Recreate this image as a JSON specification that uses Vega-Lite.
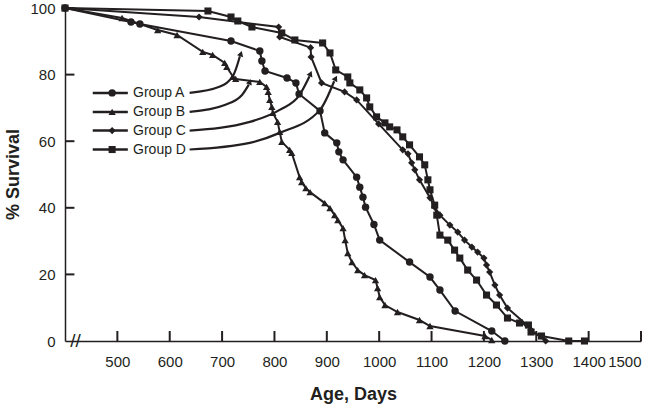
{
  "$schema": "https://vega.github.io/schema/vega-lite/v6.json",
  "autosize": {"type": "none"},
  "width": 576,
  "height": 333,
  "padding": {"left": 65, "top": 8, "right": 19, "bottom": 69},
  "background": "white",
  "config": {
    "view": {"stroke": null},
    "font": "Liberation Sans",
    "axis": {
      "domainColor": "#231f20", "domainWidth": 1.5, "ticks": false,
      "labelColor": "#231f20", "titleColor": "#231f20", "labelFontSize": 15,
      "titleFontSize": 18, "titleFontWeight": "bold", "grid": false, "labelFont": "Liberation Sans", "titleFont": "Liberation Sans"
    }
  },
  "datasets": {
    "surv": [
      {"group": "Group A", "age": 400, "survival": 100},
      {"group": "Group A", "age": 526, "survival": 95.8},
      {"group": "Group A", "age": 543, "survival": 95.2},
      {"group": "Group A", "age": 717, "survival": 90.1},
      {"group": "Group A", "age": 772, "survival": 87.1},
      {"group": "Group A", "age": 776, "survival": 84.1},
      {"group": "Group A", "age": 782, "survival": 81.1},
      {"group": "Group A", "age": 824, "survival": 79},
      {"group": "Group A", "age": 841, "survival": 77.5},
      {"group": "Group A", "age": 847, "survival": 74.2},
      {"group": "Group A", "age": 887, "survival": 69.1},
      {"group": "Group A", "age": 896, "survival": 62.5},
      {"group": "Group A", "age": 919, "survival": 59.5},
      {"group": "Group A", "age": 923, "survival": 56.8},
      {"group": "Group A", "age": 931, "survival": 54.4},
      {"group": "Group A", "age": 957, "survival": 49.2},
      {"group": "Group A", "age": 963, "survival": 46.2},
      {"group": "Group A", "age": 969, "survival": 43.2},
      {"group": "Group A", "age": 974, "survival": 40.2},
      {"group": "Group A", "age": 990, "survival": 35},
      {"group": "Group A", "age": 1001, "survival": 30.3},
      {"group": "Group A", "age": 1058, "survival": 23.7},
      {"group": "Group A", "age": 1097, "survival": 19.2},
      {"group": "Group A", "age": 1116, "survival": 15.3},
      {"group": "Group A", "age": 1145, "survival": 9},
      {"group": "Group A", "age": 1215, "survival": 3},
      {"group": "Group A", "age": 1240, "survival": 0},
      {"group": "Group B", "age": 400, "survival": 100},
      {"group": "Group B", "age": 509, "survival": 97},
      {"group": "Group B", "age": 577, "survival": 93.4},
      {"group": "Group B", "age": 614, "survival": 91.9},
      {"group": "Group B", "age": 663, "survival": 86.8},
      {"group": "Group B", "age": 682, "survival": 85.9},
      {"group": "Group B", "age": 705, "survival": 83.5},
      {"group": "Group B", "age": 709, "survival": 82.3},
      {"group": "Group B", "age": 721, "survival": 79.3},
      {"group": "Group B", "age": 726, "survival": 78.7},
      {"group": "Group B", "age": 772, "survival": 77.8},
      {"group": "Group B", "age": 785, "survival": 76.3},
      {"group": "Group B", "age": 788, "survival": 74.8},
      {"group": "Group B", "age": 791, "survival": 72.4},
      {"group": "Group B", "age": 795, "survival": 70.3},
      {"group": "Group B", "age": 797, "survival": 68.5},
      {"group": "Group B", "age": 806, "survival": 65.8},
      {"group": "Group B", "age": 810, "survival": 62.8},
      {"group": "Group B", "age": 814, "survival": 59.8},
      {"group": "Group B", "age": 829, "survival": 57.4},
      {"group": "Group B", "age": 833, "survival": 56.5},
      {"group": "Group B", "age": 848, "survival": 49.2},
      {"group": "Group B", "age": 852, "survival": 47.7},
      {"group": "Group B", "age": 860, "survival": 45.9},
      {"group": "Group B", "age": 868, "survival": 44.7},
      {"group": "Group B", "age": 896, "survival": 41.4},
      {"group": "Group B", "age": 906, "survival": 39.9},
      {"group": "Group B", "age": 915, "survival": 37.8},
      {"group": "Group B", "age": 921, "survival": 36.3},
      {"group": "Group B", "age": 931, "survival": 33.9},
      {"group": "Group B", "age": 935, "survival": 30.3},
      {"group": "Group B", "age": 940, "survival": 26.4},
      {"group": "Group B", "age": 948, "survival": 23.7},
      {"group": "Group B", "age": 959, "survival": 21.3},
      {"group": "Group B", "age": 972, "survival": 19.8},
      {"group": "Group B", "age": 993, "survival": 18.3},
      {"group": "Group B", "age": 997, "survival": 15.9},
      {"group": "Group B", "age": 1001, "survival": 13.2},
      {"group": "Group B", "age": 1011, "survival": 10.8},
      {"group": "Group B", "age": 1035, "survival": 8.7},
      {"group": "Group B", "age": 1077, "survival": 6.3},
      {"group": "Group B", "age": 1097, "survival": 4.5},
      {"group": "Group B", "age": 1202, "survival": 1.5},
      {"group": "Group B", "age": 1215, "survival": 0.3},
      {"group": "Group C", "age": 400, "survival": 100},
      {"group": "Group C", "age": 656, "survival": 97.3},
      {"group": "Group C", "age": 808, "survival": 94.3},
      {"group": "Group C", "age": 810, "survival": 91.3},
      {"group": "Group C", "age": 869, "survival": 88.1},
      {"group": "Group C", "age": 870, "survival": 85.3},
      {"group": "Group C", "age": 890, "survival": 77.5},
      {"group": "Group C", "age": 934, "survival": 74.8},
      {"group": "Group C", "age": 957, "survival": 72.4},
      {"group": "Group C", "age": 999, "survival": 65.2},
      {"group": "Group C", "age": 1045, "survival": 57.4},
      {"group": "Group C", "age": 1055, "survival": 56.2},
      {"group": "Group C", "age": 1062, "survival": 53.5},
      {"group": "Group C", "age": 1068, "survival": 51.4},
      {"group": "Group C", "age": 1077, "survival": 48.4},
      {"group": "Group C", "age": 1097, "survival": 43},
      {"group": "Group C", "age": 1106, "survival": 40.2},
      {"group": "Group C", "age": 1116, "survival": 37.8},
      {"group": "Group C", "age": 1135, "survival": 34.8},
      {"group": "Group C", "age": 1150, "survival": 32.7},
      {"group": "Group C", "age": 1163, "survival": 30.3},
      {"group": "Group C", "age": 1177, "survival": 28.2},
      {"group": "Group C", "age": 1188, "survival": 26.7},
      {"group": "Group C", "age": 1200, "survival": 24.9},
      {"group": "Group C", "age": 1205, "survival": 22.8},
      {"group": "Group C", "age": 1211, "survival": 20.7},
      {"group": "Group C", "age": 1221, "survival": 16.8},
      {"group": "Group C", "age": 1230, "survival": 13.8},
      {"group": "Group C", "age": 1245, "survival": 9.9},
      {"group": "Group C", "age": 1282, "survival": 4.8},
      {"group": "Group C", "age": 1290, "survival": 3.3},
      {"group": "Group C", "age": 1318, "survival": 0},
      {"group": "Group D", "age": 400, "survival": 100},
      {"group": "Group D", "age": 673, "survival": 99.1},
      {"group": "Group D", "age": 717, "survival": 97.3},
      {"group": "Group D", "age": 730, "survival": 96.1},
      {"group": "Group D", "age": 757, "survival": 94.3},
      {"group": "Group D", "age": 814, "survival": 92.5},
      {"group": "Group D", "age": 839, "survival": 90.4},
      {"group": "Group D", "age": 892, "survival": 89.5},
      {"group": "Group D", "age": 906, "survival": 86.5},
      {"group": "Group D", "age": 917, "survival": 81.4},
      {"group": "Group D", "age": 940, "survival": 79.3},
      {"group": "Group D", "age": 944, "survival": 77.5},
      {"group": "Group D", "age": 963, "survival": 75.4},
      {"group": "Group D", "age": 976, "survival": 73},
      {"group": "Group D", "age": 982, "survival": 70.3},
      {"group": "Group D", "age": 995, "survival": 67.3},
      {"group": "Group D", "age": 1011, "survival": 65.5},
      {"group": "Group D", "age": 1020, "survival": 64.3},
      {"group": "Group D", "age": 1034, "survival": 63.4},
      {"group": "Group D", "age": 1045, "survival": 61.3},
      {"group": "Group D", "age": 1058, "survival": 58.9},
      {"group": "Group D", "age": 1077, "survival": 55.3},
      {"group": "Group D", "age": 1087, "survival": 52.9},
      {"group": "Group D", "age": 1093, "survival": 48.4},
      {"group": "Group D", "age": 1097, "survival": 45.4},
      {"group": "Group D", "age": 1106, "survival": 40.8},
      {"group": "Group D", "age": 1110, "survival": 37.8},
      {"group": "Group D", "age": 1116, "survival": 31.8},
      {"group": "Group D", "age": 1131, "survival": 30.3},
      {"group": "Group D", "age": 1144, "survival": 27.3},
      {"group": "Group D", "age": 1154, "survival": 24.9},
      {"group": "Group D", "age": 1169, "survival": 21.3},
      {"group": "Group D", "age": 1186, "survival": 18.3},
      {"group": "Group D", "age": 1205, "survival": 13.8},
      {"group": "Group D", "age": 1224, "survival": 10.8},
      {"group": "Group D", "age": 1245, "survival": 6.9},
      {"group": "Group D", "age": 1268, "survival": 5.4},
      {"group": "Group D", "age": 1285, "survival": 4.8},
      {"group": "Group D", "age": 1290, "survival": 2.7},
      {"group": "Group D", "age": 1310, "survival": 1.5},
      {"group": "Group D", "age": 1362, "survival": 0},
      {"group": "Group D", "age": 1392, "survival": 0}
    ],
    "keyline": [
      {"group": "Group A", "age": 453, "survival": 74.5},
      {"group": "Group A", "age": 520, "survival": 74.5},
      {"group": "Group B", "age": 453, "survival": 68.8},
      {"group": "Group B", "age": 520, "survival": 68.8},
      {"group": "Group C", "age": 453, "survival": 63.2},
      {"group": "Group C", "age": 520, "survival": 63.2},
      {"group": "Group D", "age": 453, "survival": 57.5},
      {"group": "Group D", "age": 520, "survival": 57.5}
    ],
    "keymark": [
      {"group": "Group A", "age": 490, "survival": 74.5, "label_age": 530},
      {"group": "Group B", "age": 490, "survival": 68.8, "label_age": 530},
      {"group": "Group C", "age": 490, "survival": 63.2, "label_age": 530},
      {"group": "Group D", "age": 490, "survival": 57.5, "label_age": 530}
    ],
    "arrows": [
      {"group": "Group A", "age": 638, "survival": 74.5},
      {"group": "Group A", "age": 696, "survival": 76.4},
      {"group": "Group A", "age": 722, "survival": 80},
      {"group": "Group A", "age": 734, "survival": 85.5},
      {"group": "Group B", "age": 638, "survival": 68.8},
      {"group": "Group B", "age": 705, "survival": 70.9},
      {"group": "Group B", "age": 738, "survival": 73.9},
      {"group": "Group B", "age": 751, "survival": 77},
      {"group": "Group C", "age": 638, "survival": 63.2},
      {"group": "Group C", "age": 753, "survival": 65.8},
      {"group": "Group C", "age": 810, "survival": 69.4},
      {"group": "Group C", "age": 848, "survival": 73.9},
      {"group": "Group C", "age": 867, "survival": 79.5},
      {"group": "Group D", "age": 638, "survival": 57.5},
      {"group": "Group D", "age": 753, "survival": 59.5},
      {"group": "Group D", "age": 810, "survival": 62.5},
      {"group": "Group D", "age": 887, "survival": 69.4},
      {"group": "Group D", "age": 914, "survival": 78}
    ],
    "tips": [
      {"group": "Group A", "age": 736, "survival": 86.3},
      {"group": "Group B", "age": 753, "survival": 77.8},
      {"group": "Group C", "age": 869, "survival": 80.3},
      {"group": "Group D", "age": 917, "survival": 78.9}
    ],
    "ticksx": [
      {"tickage": 500}, {"tickage": 600}, {"tickage": 700}, {"tickage": 800}, {"tickage": 900}, {"tickage": 1000},
      {"tickage": 1100}, {"tickage": 1200}, {"tickage": 1300}, {"tickage": 1400}, {"tickage": 1500}
    ],
    "ticksy": [
      {"ticksurv": 20}, {"ticksurv": 40}, {"ticksurv": 60}, {"ticksurv": 80}, {"ticksurv": 100}
    ]
  },
  "layer": [
    {
      "data": {"name": "surv"},
      "mark": {"type": "line", "color": "#231f20", "strokeWidth": 2},
      "encoding": {
        "x": {"field": "age", "type": "quantitative", "scale": {"domain": [400, 1500], "nice": false, "zero": false},
          "axis": {"values": [500, 600, 700, 800, 900, 1000, 1100, 1200, 1300, 1400, 1500], "format": "d", "title": "Age, Days", "labelPadding": 13, "titlePadding": 16}},
        "y": {"field": "survival", "type": "quantitative", "scale": {"domain": [0, 100], "nice": false},
          "axis": {"values": [0, 20, 40, 60, 80, 100], "format": "d", "title": "% Survival", "labelPadding": 10, "titleX": -52, "titleY": 166, "titleAngle": -90, "titleAlign": "center", "titleBaseline": "middle"}},
        "detail": {"field": "group"}
      }
    },
    {
      "data": {"name": "ticksx"},
      "mark": {"type": "rule", "color": "#231f20", "strokeWidth": 2},
      "encoding": {
        "x": {"field": "tickage", "type": "quantitative"},
        "y": {"datum": 0},
        "y2": {"datum": 3}
      }
    },
    {
      "data": {"name": "ticksy"},
      "mark": {"type": "rule", "color": "#231f20", "strokeWidth": 2},
      "encoding": {
        "y": {"field": "ticksurv", "type": "quantitative"},
        "x": {"datum": 400},
        "x2": {"datum": 418}
      }
    },
    {
      "data": {"name": "surv"},
      "mark": {"type": "point", "filled": true, "opacity": 1, "color": "#231f20"},
      "encoding": {
        "x": {"field": "age", "type": "quantitative"},
        "y": {"field": "survival", "type": "quantitative"},
        "shape": {"field": "group", "scale": {"domain": ["Group A", "Group B", "Group C", "Group D"], "range": ["circle", "triangle-up", "diamond", "square"]}, "legend": null},
        "size": {"field": "group", "scale": {"domain": ["Group A", "Group B", "Group C", "Group D"], "range": [55, 50, 42, 70]}, "legend": null}
      }
    },
    {
      "data": {"name": "keyline"},
      "mark": {"type": "line", "color": "#231f20", "strokeWidth": 2.5},
      "encoding": {
        "x": {"field": "age", "type": "quantitative"},
        "y": {"field": "survival", "type": "quantitative"},
        "detail": {"field": "group"}
      }
    },
    {
      "data": {"name": "keymark"},
      "mark": {"type": "point", "filled": true, "opacity": 1, "color": "#231f20"},
      "encoding": {
        "x": {"field": "age", "type": "quantitative"},
        "y": {"field": "survival", "type": "quantitative"},
        "shape": {"field": "group"},
        "size": {"field": "group"}
      }
    },
    {
      "data": {"name": "keymark"},
      "mark": {"type": "text", "align": "left", "baseline": "middle", "fontSize": 14, "color": "#231f20", "font": "Liberation Sans"},
      "encoding": {
        "x": {"field": "label_age", "type": "quantitative"},
        "y": {"field": "survival", "type": "quantitative"},
        "text": {"field": "group"}
      }
    },
    {
      "data": {"name": "arrows"},
      "mark": {"type": "line", "color": "#231f20", "strokeWidth": 2.2, "interpolate": "monotone"},
      "encoding": {
        "x": {"field": "age", "type": "quantitative"},
        "y": {"field": "survival", "type": "quantitative"},
        "detail": {"field": "group"}
      }
    },
    {
      "data": {"name": "tips"},
      "mark": {"type": "point", "filled": true, "opacity": 1, "color": "#231f20", "shape": "triangle-up", "size": 40},
      "encoding": {
        "x": {"field": "age", "type": "quantitative"},
        "y": {"field": "survival", "type": "quantitative"},
        "angle": {"field": "group", "type": "nominal", "scale": {"domain": ["Group A", "Group B", "Group C", "Group D"], "range": [17, 28, 27, 27]}, "legend": null}
      }
    },
    {
      "data": {"values": [{"label": "//"}]},
      "mark": {"type": "text", "fontSize": 19, "color": "#231f20", "baseline": "middle", "align": "center", "font": "Liberation Sans"},
      "encoding": {
        "x": {"datum": 420},
        "y": {"datum": 0},
        "text": {"field": "label"}
      }
    }
  ]
}
